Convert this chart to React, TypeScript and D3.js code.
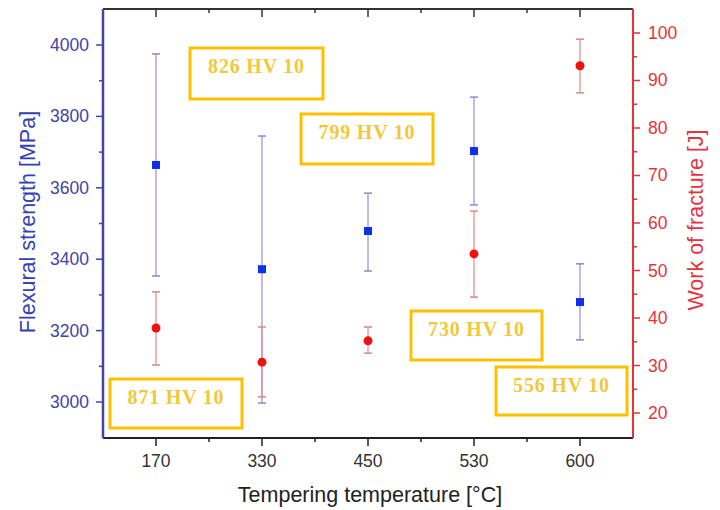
import React from 'react';
import * as d3 from 'd3';

const categories = ['170', '330', '450', '530', '600'];
const strength = [3664, 3372, 3479, 3703, 3280];
const strengthHi = [3975, 3745, 3585, 3854, 3387];
const strengthLo = [3353, 2997, 3367, 3552, 3174];
const work = [37.9, 30.7, 35.2, 53.5, 93.1];
const workHi = [45.5, 38.1, 38.1, 62.5, 98.7];
const workLo = [30.1, 23.4, 32.6, 44.4, 87.4];
const leftTicks = [3000, 3200, 3400, 3600, 3800, 4000];
const leftMinor = [3100, 3300, 3500, 3700, 3900];
const rightTicks = [20, 30, 40, 50, 60, 70, 80, 90, 100];
const rightMinor = [25, 35, 45, 55, 65, 75, 85, 95];
const hardness = ['871 HV 10', '826 HV 10', '799 HV 10', '730 HV 10', '556 HV 10'];

// annotation box layout (pixels)
const boxLayout = [
  { x: 110, y: 379, w: 132, h: 49 },
  { x: 190, y: 48, w: 133, h: 51 },
  { x: 301, y: 114, w: 132, h: 50 },
  { x: 411, y: 311, w: 131, h: 49 },
  { x: 496, y: 367, w: 131, h: 48 },
];

const L = 103, R = 633, T = 9, B = 438;
const BLUE_AX = '#4343A8';
const RED_AX = '#E5333D';
const FONT = 'Arial, "Liberation Sans", sans-serif';

export default function App() {
  const x = d3.scalePoint<string>().domain(categories).range([L, R]).padding(0.5);
  const yL = d3.scaleLinear().domain([2899.2, 4100.8]).range([B, T]);
  const yR = d3.scaleLinear().domain([14.74, 105.05]).range([B, T]);
  const step = x.step();
  const minorX = categories.slice(0, -1).map((c) => (x(c) as number) + step / 2);

  return (
    <svg width={720} height={510} style={{ position: 'absolute', left: 0, top: 0, background: '#fff' }}>
      {/* top axis */}
      <line x1={L} x2={R} y1={T} y2={T} stroke="#333" strokeWidth={2} />
      {categories.map((c) => (
        <line key={'tt' + c} x1={x(c)} x2={x(c)} y1={T} y2={T + 8} stroke="#333" strokeWidth={1.5} />
      ))}
      {minorX.map((m, i) => (
        <line key={'tm' + i} x1={m} x2={m} y1={T} y2={T + 4} stroke="#333" strokeWidth={1.5} />
      ))}
      {/* bottom axis */}
      <line x1={L} x2={R} y1={B} y2={B} stroke="#222" strokeWidth={2} />
      {categories.map((c) => (
        <g key={'bt' + c}>
          <line x1={x(c)} x2={x(c)} y1={B} y2={B + 8} stroke="#222" strokeWidth={1.5} />
          <text x={x(c)} y={467} textAnchor="middle" fontFamily={FONT} fontSize={17.5} fill="#333">{c}</text>
        </g>
      ))}
      {minorX.map((m, i) => (
        <line key={'bm' + i} x1={m} x2={m} y1={B} y2={B + 4} stroke="#222" strokeWidth={1.5} />
      ))}
      <text x={370} y={502} textAnchor="middle" fontFamily={FONT} fontSize={21.5} fill="#222">Tempering temperature [°C]</text>

      {/* left axis */}
      <line x1={L} x2={L} y1={T} y2={B} stroke={BLUE_AX} strokeWidth={2.5} />
      {leftTicks.map((t) => (
        <g key={'lt' + t}>
          <line x1={L - 7} x2={L} y1={yL(t)} y2={yL(t)} stroke={BLUE_AX} strokeWidth={1.5} />
          <text x={89} y={yL(t) + 6} textAnchor="end" fontFamily={FONT} fontSize={17.5} fill={BLUE_AX}>{t}</text>
        </g>
      ))}
      {leftMinor.map((t) => (
        <line key={'lm' + t} x1={L - 4} x2={L} y1={yL(t)} y2={yL(t)} stroke={BLUE_AX} strokeWidth={1.5} />
      ))}
      <text transform={`translate(35,222) rotate(-90)`} textAnchor="middle" fontFamily={FONT} fontSize={21.5} fill="#3340B8">Flexural strength [MPa]</text>

      {/* right axis */}
      <line x1={R} x2={R} y1={T} y2={B} stroke={RED_AX} strokeWidth={2} />
      {rightTicks.map((t) => (
        <g key={'rt' + t}>
          <line x1={R} x2={R + 7} y1={yR(t)} y2={yR(t)} stroke={RED_AX} strokeWidth={1.5} />
          <text x={648} y={yR(t) + 6} textAnchor="start" fontFamily={FONT} fontSize={17.5} fill={RED_AX}>{t}</text>
        </g>
      ))}
      {rightMinor.map((t) => (
        <line key={'rm' + t} x1={R} x2={R + 4} y1={yR(t)} y2={yR(t)} stroke={RED_AX} strokeWidth={1.5} />
      ))}
      <text transform={`translate(703,220) rotate(-90)`} textAnchor="middle" fontFamily={FONT} fontSize={21.5} fill={RED_AX}>Work of fracture [J]</text>

      {/* annotation boxes */}
      {hardness.map((h, i) => {
        const b = boxLayout[i];
        return (
          <g key={'hb' + i}>
            <rect x={b.x} y={b.y} width={b.w} height={b.h} fill="none" stroke="#FFC000" strokeWidth={3} />
            <text x={b.x + b.w / 2} y={b.y + 25} textAnchor="middle" fontFamily='"Liberation Serif", "Times New Roman", serif' fontWeight="bold" fontSize={20} letterSpacing={0.8} fill="#F2C83A">{h}</text>
          </g>
        );
      })}

      {/* strength error bars + squares */}
      {categories.map((c, i) => {
        const cx = x(c) as number;
        return (
          <g key={'s' + c}>
            <line x1={cx} x2={cx} y1={yL(strengthHi[i])} y2={yL(strengthLo[i])} stroke="#9A9AD6" strokeWidth={1.3} />
            <line x1={cx - 4} x2={cx + 4} y1={yL(strengthHi[i])} y2={yL(strengthHi[i])} stroke="#8A8AC8" strokeWidth={1.5} />
            <line x1={cx - 4} x2={cx + 4} y1={yL(strengthLo[i])} y2={yL(strengthLo[i])} stroke="#8A8AC8" strokeWidth={1.5} />
            <rect x={cx - 4} y={yL(strength[i]) - 4} width={8} height={8} fill="#1030E8" />
          </g>
        );
      })}

      {/* work error bars + circles */}
      {categories.map((c, i) => {
        const cx = x(c) as number;
        return (
          <g key={'w' + c}>
            <line x1={cx} x2={cx} y1={yR(workHi[i])} y2={yR(workLo[i])} stroke="#E29494" strokeWidth={1.3} />
            <line x1={cx - 4} x2={cx + 4} y1={yR(workHi[i])} y2={yR(workHi[i])} stroke="#D88888" strokeWidth={1.5} />
            <line x1={cx - 4} x2={cx + 4} y1={yR(workLo[i])} y2={yR(workLo[i])} stroke="#D88888" strokeWidth={1.5} />
            <circle cx={cx} cy={yR(work[i])} r={4.5} fill="#F01010" />
          </g>
        );
      })}
    </svg>
  );
}
